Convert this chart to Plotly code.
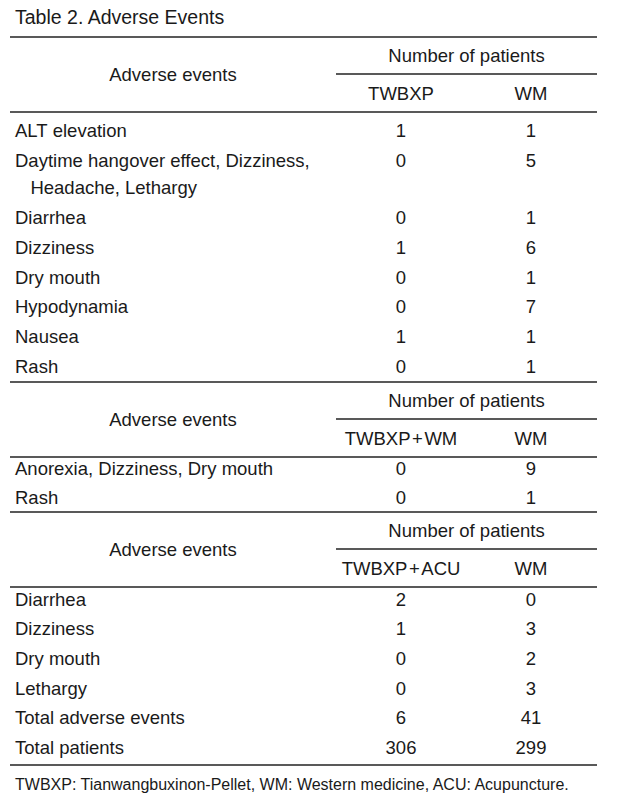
import plotly.graph_objects as go

title = "Table 2. Adverse Events"
footnote = "TWBXP: Tianwangbuxinon-Pellet, WM: Western medicine, ACU: Acupuncture."

# Section 1: TWBXP vs WM
events_1 = ["ALT elevation", "Daytime hangover effect, Dizziness,<br>   Headache, Lethargy", "Diarrhea",
            "Dizziness", "Dry mouth", "Hypodynamia", "Nausea", "Rash"]
twbxp_1 = [1, 0, 0, 1, 0, 0, 1, 0]
wm_1 = [1, 5, 1, 6, 1, 7, 1, 1]

# Section 2: TWBXP+WM vs WM
events_2 = ["Anorexia, Dizziness, Dry mouth", "Rash"]
twbxp_wm_2 = [0, 0]
wm_2 = [9, 1]

# Section 3: TWBXP+ACU vs WM
events_3 = ["Diarrhea", "Dizziness", "Dry mouth", "Lethargy", "Total adverse events", "Total patients"]
twbxp_acu_3 = [2, 1, 0, 0, 6, 306]
wm_3 = [0, 3, 2, 3, 41, 299]

group_labels = ["TWBXP", "TWBXP\u200a+\u200aWM", "TWBXP\u200a+\u200aACU"]
control_label = "WM"
header_left = "Adverse events"
header_top = "Number of patients"

FONT = "Liberation Sans"
FS = 18.5
COLOR = "#1a1a1a"

W, H = 618, 809
DY = 2  # vertical centring correction for text
XL, XR = 10, 597
X_TEXT = 15
X_C1, X_C2 = 401, 531
X_SUB = 336
X_HDR = 173
WRAP_GAP = 27

fig = go.Figure()

def text_trace(xs, ys, texts, pos, size=FS):
    fig.add_trace(go.Scatter(x=xs, y=[y + DY for y in ys], text=texts, mode="text", textposition=pos,
                             textfont=dict(family=FONT, size=size, color=COLOR),
                             hoverinfo="skip", showlegend=False, cliponaxis=False))

def hline(y, x0=XL, x1=XR, w=1.3):
    fig.add_shape(type="line", x0=x0, x1=x1, y0=y, y1=y, xref="x", yref="y",
                  line=dict(color="#222", width=w))

def header(y_top, grp):
    hline(y_top)
    text_trace([X_HDR], [y_top + 37], [header_left], "middle center")
    text_trace([(X_SUB + XR) / 2], [y_top + 18], [header_top], "middle center")
    hline(y_top + 37, x0=X_SUB)
    text_trace([X_C1, X_C2], [y_top + 56, y_top + 56], [grp, control_label], "middle center")
    hline(y_top + 75)

def rows(ys, names, a, b):
    xs, yy, tt = [], [], []
    for y, n in zip(ys, names):
        for k, part in enumerate(n.split("<br>")):
            xs.append(X_TEXT)
            yy.append(y + k * WRAP_GAP)
            tt.append(part.replace(" ", "\u00a0"))
    text_trace(xs, yy, tt, "middle right")
    text_trace([X_C1] * len(ys), ys, [str(v) for v in a], "middle center")
    text_trace([X_C2] * len(ys), ys, [str(v) for v in b], "middle center")

# title
text_trace([15], [17], [title], "middle right", size=19.5)

# section 1
header(37, group_labels[0])
rows([130, 160, 217, 247, 277, 306, 336, 366], events_1, twbxp_1, wm_1)

# section 2
header(382, group_labels[1])
rows([468, 497], events_2, twbxp_wm_2, wm_2)

# section 3
header(512, group_labels[2])
rows([599, 628, 658, 688, 717, 747], events_3, twbxp_acu_3, wm_3)
hline(765)

# footnote
text_trace([X_TEXT], [784], [footnote], "middle right", size=16)

fig.update_layout(
    width=W, height=H, margin=dict(l=0, r=0, t=0, b=0),
    paper_bgcolor="white", plot_bgcolor="white",
    xaxis=dict(range=[0, W], visible=False, fixedrange=True),
    yaxis=dict(range=[H, 0], visible=False, fixedrange=True),
)
fig.write_html("out.html", config={"displayModeBar": False},
               post_script="document.body.style.margin='0';")
